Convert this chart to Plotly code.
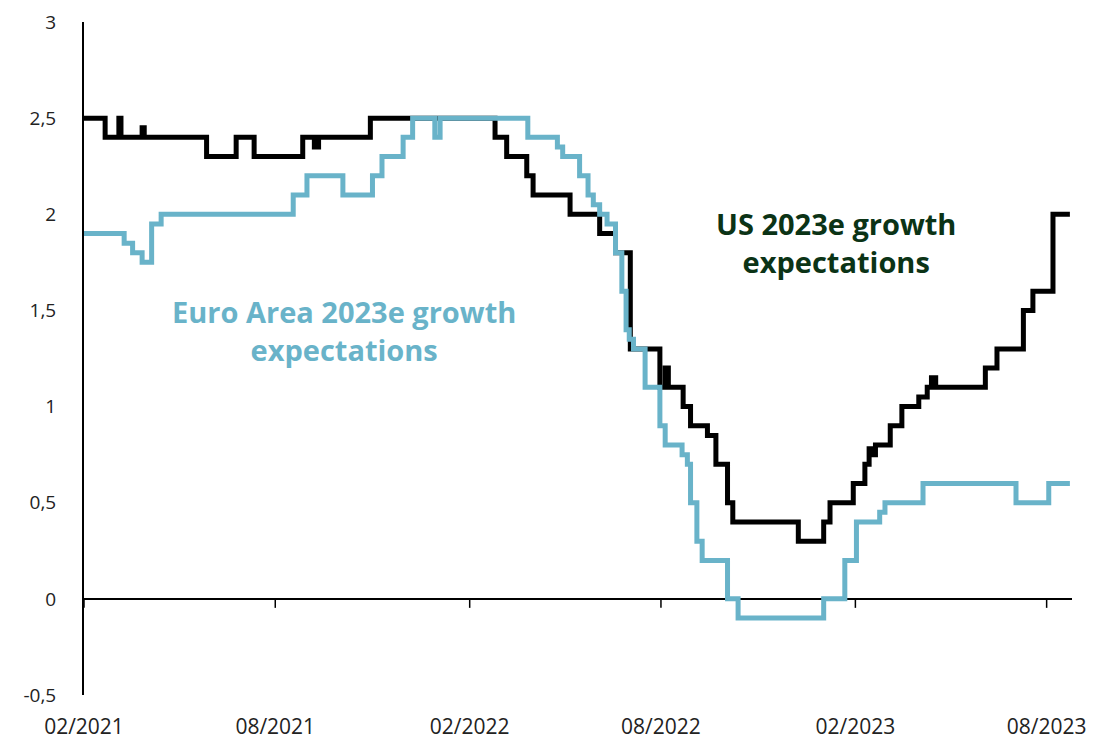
import plotly.graph_objects as go

# US 2023e growth expectations (step changes)
us_dates = ["2021-02-01", "2021-02-21", "2021-03-06", "2021-03-08", "2021-03-28", "2021-03-30",
            "2021-05-28", "2021-06-25", "2021-07-12", "2021-08-27", "2021-09-07", "2021-09-11",
            "2021-10-30", "2022-02-25", "2022-03-08", "2022-03-27", "2022-04-02", "2022-05-07",
            "2022-06-04", "2022-06-19", "2022-07-03", "2022-07-31", "2022-08-05", "2022-08-08",
            "2022-08-22", "2022-08-29", "2022-09-14", "2022-09-22", "2022-10-03", "2022-10-08",
            "2022-12-09", "2023-01-02", "2023-01-08", "2023-01-30", "2023-02-10", "2023-02-14",
            "2023-02-17", "2023-02-20", "2023-03-06", "2023-03-17", "2023-04-02", "2023-04-10",
            "2023-04-14", "2023-04-18", "2023-06-04", "2023-06-15", "2023-07-10", "2023-07-19",
            "2023-08-07", "2023-08-23"]
us_values = [2.5, 2.4, 2.5, 2.4, 2.45, 2.4,
             2.3, 2.4, 2.3, 2.4, 2.35, 2.4,
             2.5, 2.4, 2.3, 2.2, 2.1, 2.0,
             1.9, 1.8, 1.3, 1.1, 1.2, 1.1,
             1.0, 0.9, 0.85, 0.7, 0.5, 0.4,
             0.3, 0.4, 0.5, 0.6, 0.7, 0.78,
             0.75, 0.8, 0.9, 1.0, 1.05, 1.1,
             1.15, 1.1, 1.2, 1.3, 1.5, 1.6,
             2.0, 2.0]

# Euro Area 2023e growth expectations (step changes)
ea_dates = ["2021-02-01", "2021-03-11", "2021-03-19", "2021-03-28", "2021-04-06", "2021-04-15",
            "2021-08-18", "2021-08-31", "2021-10-04", "2021-11-01", "2021-11-10", "2021-11-30",
            "2021-12-09", "2021-12-30", "2022-01-04", "2022-03-28", "2022-04-25", "2022-04-30",
            "2022-05-16", "2022-05-24", "2022-05-29", "2022-06-04", "2022-06-11", "2022-06-19",
            "2022-06-25", "2022-06-29", "2022-07-02", "2022-07-06", "2022-07-17", "2022-07-31",
            "2022-08-05", "2022-08-21", "2022-08-26", "2022-08-29", "2022-09-04", "2022-09-09",
            "2022-10-03", "2022-10-13", "2023-01-02", "2023-01-22", "2023-02-02", "2023-02-24",
            "2023-03-01", "2023-04-06", "2023-07-03", "2023-08-03", "2023-08-23"]
ea_values = [1.9, 1.85, 1.8, 1.75, 1.95, 2.0,
             2.1, 2.2, 2.1, 2.2, 2.3, 2.4,
             2.5, 2.4, 2.5, 2.4, 2.35, 2.3,
             2.2, 2.1, 2.05, 2.0, 1.95, 1.8,
             1.6, 1.4, 1.35, 1.3, 1.1, 0.9,
             0.8, 0.75, 0.7, 0.5, 0.3, 0.2,
             0.0, -0.1, 0.0, 0.2, 0.4, 0.45,
             0.5, 0.6, 0.5, 0.6, 0.6]

x_tick_vals = ["2021-02-01", "2021-08-01", "2022-02-01", "2022-08-01", "2023-02-01", "2023-08-01"]
x_tick_text = ["02/2021", "08/2021", "02/2022", "08/2022", "02/2023", "08/2023"]
y_tick_vals = [-0.5, 0, 0.5, 1, 1.5, 2, 2.5, 3]
y_tick_text = ["-0,5", "0", "0,5", "1", "1,5", "2", "2,5", "3"]

BLUE = "#69b3c9"
FONT = "Open Sans"

fig = go.Figure()
fig.add_trace(go.Scatter(x=us_dates, y=us_values, mode="lines", line_shape="hv",
                         line=dict(color="#000000", width=5), name="US"))
fig.add_trace(go.Scatter(x=ea_dates, y=ea_values, mode="lines", line_shape="hv",
                         line=dict(color=BLUE, width=5), name="Euro Area"))

# tick marks on the zero line
for tv in x_tick_vals:
    fig.add_shape(type="line", xref="x", yref="y", x0=tv, x1=tv,
                  ysizemode="pixel", yanchor=0, y0=0, y1=-9,
                  line=dict(color="black", width=1.5))

fig.add_annotation(text="<b>US 2023e growth<br>expectations</b>", xref="paper", yref="paper",
                   x=0.761, y=0.672, xanchor="center", yanchor="middle",
                   showarrow=False, align="center",
                   font=dict(family=FONT, size=29, color="#0b3316"))
fig.add_annotation(text="<b>Euro Area 2023e growth<br>expectations</b>", xref="paper", yref="paper",
                   x=0.263, y=0.542, xanchor="center", yanchor="middle",
                   showarrow=False, align="center",
                   font=dict(family=FONT, size=29, color=BLUE))

fig.update_layout(
    width=1094, height=739,
    margin=dict(l=76, r=30, t=14, b=52, autoexpand=False),
    paper_bgcolor="white", plot_bgcolor="white",
    showlegend=False,
    font=dict(family=FONT, size=19, color="#222222"),
    xaxis=dict(type="date", range=["2021-02-01", "2023-08-25"],
               tickvals=x_tick_vals, ticktext=x_tick_text,
               showgrid=False, showline=False, zeroline=False, ticks="",
               ticklabelstandoff=17, automargin=False,
               tickfont=dict(size=21, color="#222222")),
    yaxis=dict(range=[-0.5, 3], tickvals=y_tick_vals, ticktext=y_tick_text,
               showgrid=False, showline=True, linecolor="black", linewidth=2,
               zeroline=True, zerolinecolor="black", zerolinewidth=1.5,
               ticks="", ticklabelstandoff=22, automargin=False,
               tickfont=dict(size=19, color="#222222")),
)

fig.write_html("out.html")
